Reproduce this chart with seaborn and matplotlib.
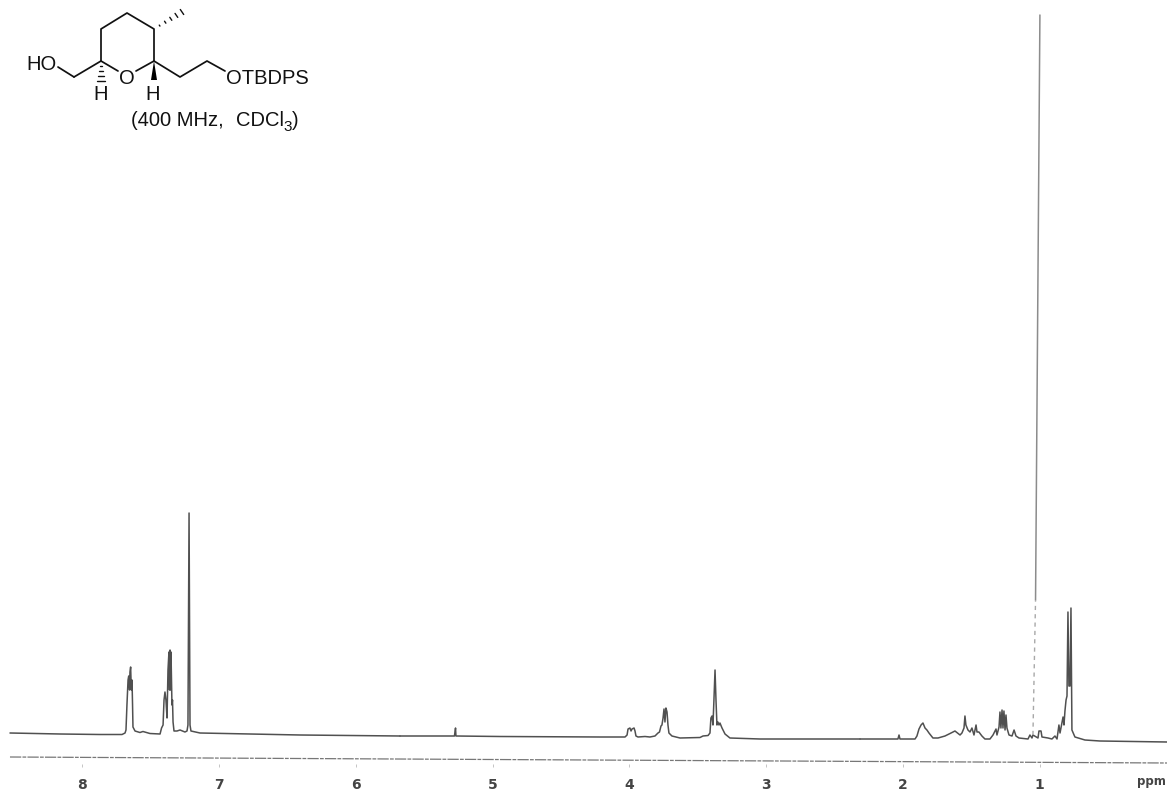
import matplotlib
matplotlib.use("Agg")
import matplotlib.pyplot as plt
import seaborn as sns

# spectrum: ppm and height above the bottom of the picture
aromatic_ppm = [8.528, 8.162, 7.870, 7.709, 7.687, 7.680, 7.673, 7.665, 7.660, 7.654, 7.651, 7.646, 7.641, 7.636,
                7.632, 7.629, 7.614, 7.578, 7.556, 7.505, 7.431, 7.420, 7.409, 7.402, 7.395, 7.388, 7.380, 7.373,
                7.366, 7.362, 7.358, 7.355, 7.351, 7.344, 7.340, 7.336, 7.329, 7.307, 7.285, 7.249, 7.234, 7.227,
                7.219, 7.212, 7.205, 7.139, 6.408, 5.677]
aromatic_int = [63, 62, 61.5, 61.5, 63, 66, 91, 116, 120, 106, 124, 129, 106, 116,
                91, 69, 65, 63.5, 64.5, 62.5, 62, 68, 71, 96, 104, 96, 78, 126,
                144, 106, 146, 106, 144, 91, 96, 74, 65, 65, 66, 64, 65, 71,
                283, 71, 65, 63, 61, 60]

mid_ppm = [5.677, 5.279, 5.271, 5.268, 4.946, 4.215, 4.032, 4.017, 4.010, 3.996, 3.988, 3.981, 3.966, 3.959,
           3.952, 3.937, 3.886, 3.850, 3.813, 3.791, 3.780, 3.769, 3.762, 3.754, 3.747, 3.740, 3.733, 3.725,
           3.718, 3.711, 3.689, 3.630, 3.484, 3.462, 3.425, 3.411, 3.404, 3.396, 3.389, 3.382, 3.374, 3.367,
           3.360, 3.353, 3.345, 3.338, 3.323, 3.301, 3.265, 3.045, 2.753, 2.314]
mid_int = [60, 60, 68, 60, 59.5, 59, 59, 61, 67, 68, 65, 67, 68, 65,
           60, 59, 59.5, 59, 60, 63, 64, 70, 71, 78, 87, 74, 88, 84,
           71, 63, 60, 58, 58.5, 60, 60.5, 63, 78, 80, 71, 96, 126, 96,
           71, 74, 71, 73, 68, 62, 58, 57, 57, 57]

upfield_ppm = [2.314, 2.037, 2.029, 2.022, 1.912, 1.898, 1.883, 1.868, 1.854, 1.839, 1.825, 1.810, 1.781, 1.744,
               1.693, 1.656, 1.620, 1.583, 1.569, 1.554, 1.547, 1.540, 1.525, 1.510, 1.496, 1.481, 1.466, 1.459,
               1.445, 1.423, 1.401, 1.364, 1.342, 1.320, 1.313, 1.298, 1.291, 1.284, 1.276, 1.269, 1.262, 1.254,
               1.247, 1.240, 1.225, 1.203, 1.188, 1.174, 1.152, 1.086, 1.072, 1.057, 1.050, 1.013, 1.006, 0.991,
               0.984, 0.940, 0.911, 0.889, 0.874, 0.860, 0.852, 0.830, 0.823, 0.816, 0.808, 0.801, 0.794, 0.787,
               0.779, 0.772, 0.765, 0.743, 0.670, 0.560, 0.070]
upfield_int = [57, 57, 61, 57, 57, 60, 67, 71, 73, 68, 66, 63, 58, 58,
               60, 62.5, 65, 61, 63, 68, 80, 71, 66, 64, 68, 61, 71, 64,
               64, 60, 57, 57, 61, 67, 61, 69, 84, 68, 86, 68, 85, 66,
               81, 68, 61, 60, 66, 60, 58, 57, 61, 58, 61, 58, 65, 65,
               59, 58, 57, 60, 57, 71, 63, 79, 71, 85, 96, 100, 184, 110,
               110, 188, 66, 59, 56, 55, 54]

# big singlet leans a little because of the scan, and fades out towards its foot
singlet_top_ppm = [1.031, 0.999]
singlet_top_int = [196, 781]
singlet_foot_ppm = [1.050, 1.031]
singlet_foot_int = [61, 196]

scale_ppm = [8.528, 0.070]
scale_int = [39, 33]

tick_ppm = [8, 7, 6, 5, 4, 3, 2, 1]
tick_labels = ["8", "7", "6", "5", "4", "3", "2", "1"]

trace_color = "#505050"

sns.set_theme(style="white")
plt.rcParams["font.family"] = ["DejaVu Sans"]

fig = plt.figure(figsize=(11.67, 7.96), dpi=100)
ax = fig.add_axes([0, 32 / 796, 1, 1 - 32 / 796])

for xs, ys in [(aromatic_ppm, aromatic_int), (mid_ppm, mid_int), (upfield_ppm, upfield_int)]:
    sns.lineplot(x=xs, y=ys, sort=False, estimator=None, color=trace_color, linewidth=1.1, ax=ax)
sns.lineplot(x=singlet_top_ppm, y=singlet_top_int, sort=False, estimator=None, color="#8c8c8c", linewidth=1.1, ax=ax)
sns.lineplot(x=singlet_foot_ppm, y=singlet_foot_int, sort=False, estimator=None, color="#a8a8a8", linewidth=1.0,
             linestyle=(0, (3, 3)), ax=ax)
sns.lineplot(x=scale_ppm, y=scale_int, sort=False, estimator=None, color="#777777", linewidth=0.9,
             linestyle=(0, (9, 1, 3, 1)), ax=ax)

ax.set_xlim(8.601, 0.070)
ax.set_ylim(32, 796)
ax.set_yticks([])
ax.set_xticks(tick_ppm)
ax.set_xticklabels(tick_labels, fontsize=10, fontweight="bold", color="#444444")
ax.tick_params(axis="x", length=2, width=0.6, color="#bbbbbb", pad=8, bottom=True)
sns.despine(ax=ax, left=True, bottom=True)
ax.patch.set_alpha(0)

# structure and captions are laid out in picture pixels on a second axes
over = fig.add_axes([0, 0, 1, 1])
over.set_xlim(0, 1167)
over.set_ylim(796, 0)
over.axis("off")

bonds = [[(74, 77), (101, 61), (101, 29), (127, 13), (154, 29), (154, 61), (136, 71)],
         [(101, 61), (118, 71)],
         [(74, 77), (58, 67)],
         [(154, 61), (180, 77), (207, 61), (225, 71)]]
for b in bonds:
    over.plot([p[0] for p in b], [p[1] for p in b], color="#111111", lw=1.25, solid_capstyle="round")

over.fill([154, 151, 157], [61, 80, 80], color="black", lw=0)
for i in range(5):
    t = (i + 1) / 5
    cx, cy = 154 + 28 * t, 29 - 17 * t
    over.plot([cx - 3.4 * t * 0.5, cx + 3.4 * t * 0.5], [cy - 5 * t * 0.5, cy + 5 * t * 0.5], color="#111111", lw=1)
for i in range(4):
    t = (i + 1) / 4
    cy = 61 + 20 * t
    over.plot([101 - 4 * t, 101 + 4 * t], [cy, cy], color="#111111", lw=1)

chem = dict(family="Liberation Sans", fontsize=14.5, color="#111111", va="center")
over.text(26, 64, "HO", ha="left", **chem)
over.text(127, 79, "O", ha="center", **chem)
over.text(101, 95, "H", ha="center", **chem)
over.text(153, 95, "H", ha="center", **chem)
over.text(226, 79, "OTBDPS", ha="left", **chem)
over.text(131, 121, "(400 MHz,", ha="left", **chem)
over.text(236, 121, "CDCl", ha="left", **chem)
over.text(283, 127, "3", ha="left", family="Liberation Sans", fontsize=11, color="#111111", va="center")
over.text(292, 121, ")", ha="left", **chem)

over.text(1137, 781, "ppm", ha="left", va="center", fontsize=8.5, fontweight="bold", color="#444444")

fig.savefig("out.png", dpi=100)
plt.close(fig)
